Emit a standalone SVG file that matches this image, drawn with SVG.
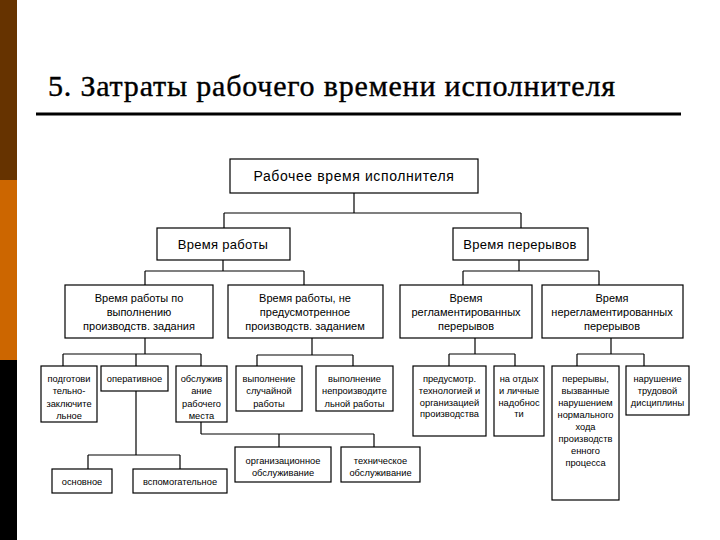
<svg xmlns="http://www.w3.org/2000/svg" width="720" height="540" viewBox="0 0 720 540">
<style>
.box{fill:#fff;stroke:#000;stroke-width:1.2}
.conn line{stroke:#000;stroke-width:1.2}
text{font-family:"Liberation Sans",Arial,sans-serif;fill:#000;text-anchor:middle}
.l1{font-size:14px;letter-spacing:0.6px}
.l2{font-size:13px;letter-spacing:0.3px}
.l3{font-size:11px}
.l4{font-size:9.3px}
.title{font-family:"Liberation Serif","Times New Roman",serif;font-size:30px;text-anchor:start;stroke:#000;stroke-width:0.4}
</style>
<rect x="0" y="0" width="720" height="540" fill="#fff"/>
<rect x="0" y="0" width="17" height="180" fill="#663300"/>
<rect x="0" y="180" width="17" height="180" fill="#CC6600"/>
<rect x="0" y="360" width="17" height="180" fill="#000"/>
<text class="title" x="48" y="96" textLength="567">5. Затраты рабочего времени исполнителя</text>
<line x1="36" y1="114" x2="681" y2="114" stroke="#000" stroke-width="2.8"/>

<g class="conn" id="connectors">
<line x1="354" y1="193" x2="354" y2="213"/>
<line x1="224" y1="213" x2="521" y2="213"/>
<line x1="224" y1="213" x2="224" y2="228"/>
<line x1="521" y1="213" x2="521" y2="228"/>
<line x1="223" y1="260" x2="223" y2="271"/>
<line x1="145" y1="271" x2="304" y2="271"/>
<line x1="145" y1="271" x2="145" y2="285"/>
<line x1="304" y1="271" x2="304" y2="285"/>
<line x1="519" y1="260" x2="519" y2="271"/>
<line x1="463" y1="271" x2="599" y2="271"/>
<line x1="463" y1="271" x2="463" y2="285"/>
<line x1="599" y1="271" x2="599" y2="285"/>
<line x1="145" y1="338" x2="145" y2="354"/>
<line x1="63" y1="354" x2="201" y2="354"/>
<line x1="63" y1="354" x2="63" y2="366"/>
<line x1="136" y1="354" x2="136" y2="366"/>
<line x1="201" y1="354" x2="201" y2="366"/>
<line x1="136" y1="391" x2="136" y2="455"/>
<line x1="88" y1="455" x2="180" y2="455"/>
<line x1="88" y1="455" x2="88" y2="469"/>
<line x1="180" y1="455" x2="180" y2="469"/>
<line x1="201" y1="422" x2="201" y2="434"/>
<line x1="201" y1="434" x2="374" y2="434"/>
<line x1="279" y1="434" x2="279" y2="447"/>
<line x1="374" y1="434" x2="374" y2="447"/>
<line x1="312" y1="338" x2="312" y2="355"/>
<line x1="257" y1="355" x2="353" y2="355"/>
<line x1="257" y1="355" x2="257" y2="366"/>
<line x1="353" y1="355" x2="353" y2="366"/>
<line x1="475" y1="338" x2="475" y2="354"/>
<line x1="449" y1="354" x2="515" y2="354"/>
<line x1="449" y1="354" x2="449" y2="366"/>
<line x1="515" y1="354" x2="515" y2="366"/>
<line x1="611" y1="338" x2="611" y2="354"/>
<line x1="577" y1="354" x2="644" y2="354"/>
<line x1="577" y1="354" x2="577" y2="366"/>
<line x1="644" y1="354" x2="644" y2="366"/>
</g>

<g id="n-root"><rect class="box" x="230" y="159" width="248" height="34"/><text class="l1" x="354" y="181">Рабочее время исполнителя</text></g>
<g id="n-work"><rect class="box" x="157" y="228" width="133" height="32"/><text class="l2" x="223" y="249">Время работы</text></g>
<g id="n-breaks"><rect class="box" x="453" y="228" width="135" height="32"/><text class="l2" x="520" y="249">Время перерывов</text></g>

<g id="n-task"><rect class="box" x="65" y="285" width="148" height="53"/><text class="l3" x="139"><tspan x="139" y="302">Время работы по</tspan><tspan x="139" y="316">выполнению</tspan><tspan x="139" y="330">производств. задания</tspan></text></g>
<g id="n-notask"><rect class="box" x="228" y="285" width="155" height="53"/><text class="l3" x="305"><tspan x="305" y="302">Время работы, не</tspan><tspan x="305" y="316">предусмотренное</tspan><tspan x="305" y="330">производств. заданием</tspan></text></g>
<g id="n-reg"><rect class="box" x="400" y="285" width="132" height="53"/><text class="l3" x="466"><tspan x="466" y="302">Время</tspan><tspan x="466" y="316">регламентированных</tspan><tspan x="466" y="330">перерывов</tspan></text></g>
<g id="n-unreg"><rect class="box" x="542" y="285" width="141" height="53"/><text class="l3" x="612"><tspan x="612" y="302">Время</tspan><tspan x="612" y="316">нерегламентированных</tspan><tspan x="612" y="330">перерывов</tspan></text></g>

<g id="n-prep"><rect class="box" x="41" y="366" width="56" height="56"/><text class="l4"><tspan x="69" y="381.5">подготови</tspan><tspan x="69" y="394">тельно-</tspan><tspan x="69" y="406.5">заключите</tspan><tspan x="69" y="419">льное</tspan></text></g>
<g id="n-oper"><rect class="box" x="101" y="366" width="67" height="25"/><text class="l4" x="134.5" y="381.5">оперативное</text></g>
<g id="n-serv"><rect class="box" x="176" y="366" width="51" height="56"/><text class="l4"><tspan x="201.5" y="381.5">обслужив</tspan><tspan x="201.5" y="394">ание</tspan><tspan x="201.5" y="406.5">рабочего</tspan><tspan x="201.5" y="419">места</tspan></text></g>
<g id="n-main"><rect class="box" x="52" y="469" width="60" height="24"/><text class="l4" x="82" y="484.5">основное</text></g>
<g id="n-aux"><rect class="box" x="133" y="469" width="94" height="24"/><text class="l4" x="180" y="484.5">вспомогательное</text></g>
<g id="n-org"><rect class="box" x="235" y="447" width="96" height="35"/><text class="l4"><tspan x="283" y="464">организационное</tspan><tspan x="283" y="476">обслуживание</tspan></text></g>
<g id="n-tech"><rect class="box" x="341" y="447" width="79" height="35"/><text class="l4"><tspan x="380.5" y="464">техническое</tspan><tspan x="380.5" y="476">обслуживание</tspan></text></g>

<g id="n-rand"><rect class="box" x="236" y="366" width="66" height="45"/><text class="l4"><tspan x="269" y="381.5">выполнение</tspan><tspan x="269" y="394">случайной</tspan><tspan x="269" y="406.5">работы</tspan></text></g>
<g id="n-unprod"><rect class="box" x="316" y="366" width="77" height="45"/><text class="l4"><tspan x="354.5" y="381.5">выполнение</tspan><tspan x="354.5" y="394">непроизводите</tspan><tspan x="354.5" y="406.5">льной работы</tspan></text></g>

<g id="n-tech-breaks"><rect class="box" x="413" y="366" width="73" height="70"/><text class="l4"><tspan x="449.5" y="381.5">предусмотр.</tspan><tspan x="449.5" y="393.5">технологией и</tspan><tspan x="449.5" y="405.5">организацией</tspan><tspan x="449.5" y="417">производства</tspan></text></g>
<g id="n-rest"><rect class="box" x="494" y="366" width="50" height="70"/><text class="l4"><tspan x="519" y="381.5">на отдых</tspan><tspan x="519" y="393.5">и личные</tspan><tspan x="519" y="405.5">надобнос</tspan><tspan x="519" y="417">ти</tspan></text></g>
<g id="n-disrupt"><rect class="box" x="552" y="366" width="67" height="134"/><text class="l4"><tspan x="585.5" y="381.5">перерывы,</tspan><tspan x="585.5" y="393.5">вызванные</tspan><tspan x="585.5" y="405.5">нарушением</tspan><tspan x="585.5" y="417.5">нормального</tspan><tspan x="585.5" y="429.5">хода</tspan><tspan x="585.5" y="441.5">производств</tspan><tspan x="585.5" y="453.5">енного</tspan><tspan x="585.5" y="465.5">процесса</tspan></text></g>
<g id="n-discipline"><rect class="box" x="626" y="366" width="63" height="49"/><text class="l4"><tspan x="657.5" y="381.5">нарушение</tspan><tspan x="657.5" y="393.5">трудовой</tspan><tspan x="657.5" y="405.5">дисциплины</tspan></text></g>
</svg>
